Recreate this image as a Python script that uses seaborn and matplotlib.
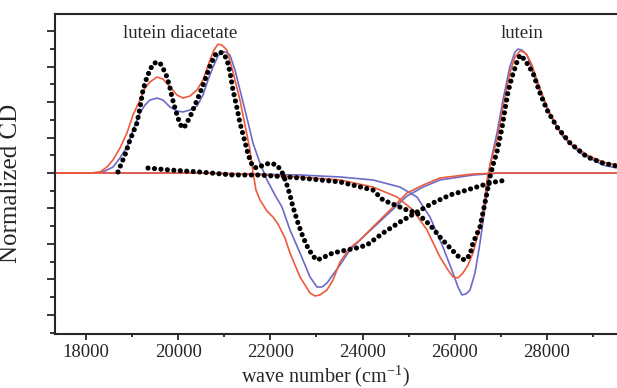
import matplotlib
matplotlib.use("Agg")
import matplotlib.pyplot as plt
from matplotlib.ticker import MultipleLocator, NullFormatter
import seaborn as sns
import numpy as np

# experimental CD, lutein diacetate (black dots)
dia_exp_x = [18694, 18737, 18846, 18954, 19106, 19171, 19236, 19323, 19388, 19453,
             19540, 19605, 19670, 19757, 19822, 19865, 19930, 19995, 20082, 20147,
             20256, 20364, 20473, 20581, 20690, 20798, 20906, 20993, 21058, 21123,
             21188, 21275, 21340, 21427, 21492, 21557, 21622, 21731, 21839, 21991,
             22143, 22251, 22338, 22425, 22490, 22598, 22707, 22815, 22924, 23010,
             23119, 23357, 23661, 23878, 24095, 24442, 24811, 25179, 25526, 25895,
             26264, 26611, 26871, 27132]
dia_exp_y = [0.007, 0.042, 0.127, 0.232, 0.352, 0.458, 0.585, 0.676, 0.725, 0.768,
             0.782, 0.775, 0.739, 0.676, 0.599, 0.535, 0.458, 0.387, 0.317, 0.331,
             0.394, 0.479, 0.563, 0.655, 0.754, 0.831, 0.852, 0.838, 0.796, 0.711,
             0.585, 0.458, 0.352, 0.246, 0.162, 0.092, 0.042, 0.035, 0.056, 0.070,
             0.056, 0.007, -0.063, -0.155, -0.239, -0.352, -0.451, -0.528, -0.585, -0.613,
             -0.599, -0.563, -0.542, -0.528, -0.507, -0.423, -0.345, -0.275, -0.211, -0.155,
             -0.120, -0.085, -0.063, -0.049]

# experimental CD, lutein (black dots)
lut_exp_x = [19345, 19822, 20473, 21188, 21774, 22642, 23509, 24225, 24442, 24963,
             25179, 25461, 25678, 25938, 26112, 26221, 26329, 26394, 26546, 26698,
             26763, 26828, 26915, 27023, 27088, 27154, 27240, 27348, 27413, 27522,
             27696, 27847, 28000, 28217, 28499, 28868, 29214, 29518]
lut_exp_y = [0.035, 0.021, 0.007, -0.014, -0.014, -0.035, -0.063, -0.120, -0.190, -0.261,
             -0.282, -0.366, -0.451, -0.542, -0.599, -0.613, -0.577, -0.493, -0.380, -0.141,
             -0.028, 0.056, 0.148, 0.317, 0.444, 0.570, 0.676, 0.782, 0.831, 0.796,
             0.704, 0.563, 0.444, 0.324, 0.211, 0.113, 0.070, 0.049]

# calculated, lutein diacetate (red)
dia_red_x = [17328, 18087, 18304, 18456, 18586, 18737, 18889, 19019, 19171, 19280,
             19388, 19540, 19670, 19822, 19974, 20104, 20256, 20408, 20538, 20690,
             20776, 20863, 20949, 21058, 21188, 21340, 21449, 21557, 21622, 21687,
             21774, 21926, 22056, 22164, 22316, 22425, 22642, 22859, 22967, 23075,
             23227, 23357, 23509, 23726, 23943, 24225, 24594, 24963, 25310, 25678,
             26394, 26980, 29518]
dia_red_y = [0, 0, 0.007, 0.042, 0.092, 0.176, 0.282, 0.408, 0.514, 0.599,
             0.641, 0.676, 0.662, 0.606, 0.549, 0.528, 0.542, 0.585, 0.655, 0.796,
             0.866, 0.908, 0.901, 0.866, 0.711, 0.514, 0.338, 0.162, 0.007, -0.120,
             -0.190, -0.268, -0.310, -0.359, -0.458, -0.563, -0.732, -0.845, -0.866, -0.859,
             -0.824, -0.754, -0.627, -0.528, -0.472, -0.380, -0.261, -0.141, -0.085, -0.035,
             -0.007, 0, 0]

# calculated, lutein diacetate (blue)
dia_blue_x = [17328, 18195, 18412, 18586, 18737, 18889, 19019, 19171, 19280, 19388,
              19540, 19670, 19822, 19974, 20104, 20256, 20408, 20538, 20646, 20755,
              20863, 20949, 21036, 21123, 21232, 21340, 21492, 21622, 21774, 21926,
              22099, 22251, 22425, 22642, 22859, 23010, 23119, 23227, 23509, 23726,
              23943, 24225, 24594, 24963, 25310, 25678, 26394, 26980, 29518]
dia_blue_y = [0, 0, 0.014, 0.042, 0.106, 0.183, 0.303, 0.423, 0.479, 0.514,
              0.528, 0.514, 0.465, 0.437, 0.430, 0.444, 0.472, 0.549, 0.655, 0.746,
              0.824, 0.852, 0.852, 0.831, 0.725, 0.585, 0.387, 0.211, 0.070, -0.049,
              -0.155, -0.239, -0.401, -0.563, -0.732, -0.803, -0.803, -0.775, -0.648, -0.542,
              -0.472, -0.387, -0.275, -0.162, -0.099, -0.049, -0.014, 0, 0]

# calculated, lutein (red)
lut_red_x = [17328, 19388, 20473, 21557, 22642, 23509, 24225, 24746, 25093, 25396,
             25678, 25852, 25960, 26069, 26177, 26286, 26394, 26546, 26633, 26698,
             26763, 26915, 27045, 27193, 27305, 27413, 27500, 27565, 27674, 27782,
             28000, 28217, 28499, 28868, 29214, 29518]
lut_red_y = [0, 0, 0, -0.007, -0.028, -0.049, -0.099, -0.169, -0.261, -0.401,
             -0.592, -0.683, -0.732, -0.739, -0.704, -0.648, -0.563, -0.380, -0.225, -0.049,
             0.056, 0.232, 0.465, 0.704, 0.817, 0.859, 0.852, 0.831, 0.761, 0.655,
             0.465, 0.324, 0.211, 0.127, 0.077, 0.056]

# calculated, lutein (blue)
lut_blue_x = [17328, 20473, 22642, 23509, 24225, 24811, 25179, 25461, 25743, 25960,
              26069, 26155, 26242, 26329, 26438, 26546, 26698, 26763, 26915, 27045,
              27193, 27305, 27370, 27457, 27565, 27782, 28065, 28347, 28716, 29214,
              29518]
lut_blue_y = [0, 0, -0.014, -0.028, -0.049, -0.099, -0.169, -0.310, -0.521, -0.704,
              -0.803, -0.859, -0.852, -0.824, -0.704, -0.493, -0.141, 0.056, 0.282, 0.514,
              0.746, 0.852, 0.873, 0.866, 0.831, 0.634, 0.408, 0.254, 0.141, 0.056,
              0.035]

red = "#ee5a3c"
blue = "#6a6ac8"

sns.set_style("ticks")
plt.rcParams['font.family'] = ['Liberation Serif', 'DejaVu Serif']
plt.rcParams['mathtext.fontset'] = 'stix'

fig = plt.figure(figsize=(6.17, 3.88), dpi=100)
ax = fig.add_axes([55 / 617, 54 / 388, 562 / 617, 320 / 388])

sns.lineplot(x=dia_blue_x, y=dia_blue_y, color=blue, lw=1.2, sort=False, ax=ax)
sns.lineplot(x=lut_blue_x, y=lut_blue_y, color=blue, lw=1.2, sort=False, ax=ax)
sns.lineplot(x=dia_red_x, y=dia_red_y, color=red, lw=1.2, sort=False, ax=ax)
sns.lineplot(x=lut_red_x, y=lut_red_y, color=red, lw=1.2, sort=False, ax=ax)

# experimental spectra drawn as closely spaced round dots
for xs, ys in [(dia_exp_x, dia_exp_y), (lut_exp_x, lut_exp_y)]:
    sns.lineplot(x=xs, y=ys, color="black", lw=3.7, sort=False, ax=ax)
    ln = ax.lines[-1]
    ln.set_linestyle((0, (0.01, 1.25)))
    ln.set_dash_capstyle("round")

ax.text(20039, 0.986, "lutein diacetate", ha="center", va="center", fontsize=13.5)
ax.text(27457, 0.986, "lutein", ha="center", va="center", fontsize=13.5)

ax.set_xlim(17328, 29518)
ax.set_ylim(-1.134, 1.120)
ax.xaxis.set_major_locator(MultipleLocator(2000))
ax.xaxis.set_minor_locator(MultipleLocator(1000))
ax.yaxis.set_major_locator(MultipleLocator(0.25))
ax.yaxis.set_minor_locator(MultipleLocator(0.125))
ax.yaxis.set_major_formatter(NullFormatter())
ax.tick_params(axis="x", which="major", length=4, width=1.3, labelsize=13.5, pad=3)
ax.tick_params(axis="x", which="minor", length=2.5, width=1.3)
ax.tick_params(axis="y", which="major", length=6, width=1.3)
ax.tick_params(axis="y", which="minor", length=3.5, width=1.3)

for side in ["left", "bottom", "top"]:
    ax.spines[side].set_linewidth(1.5)
ax.spines["right"].set_visible(False)

ax.set_xlabel(r"wave number (cm$^{\mathregular{-1}}$)", fontsize=14.5)
ax.set_ylabel("Normalized CD", fontsize=18)
ax.xaxis.set_label_coords(0.482, -0.091)
ax.yaxis.set_label_coords(-0.058, 0.47)

fig.savefig("out.png", dpi=100)
